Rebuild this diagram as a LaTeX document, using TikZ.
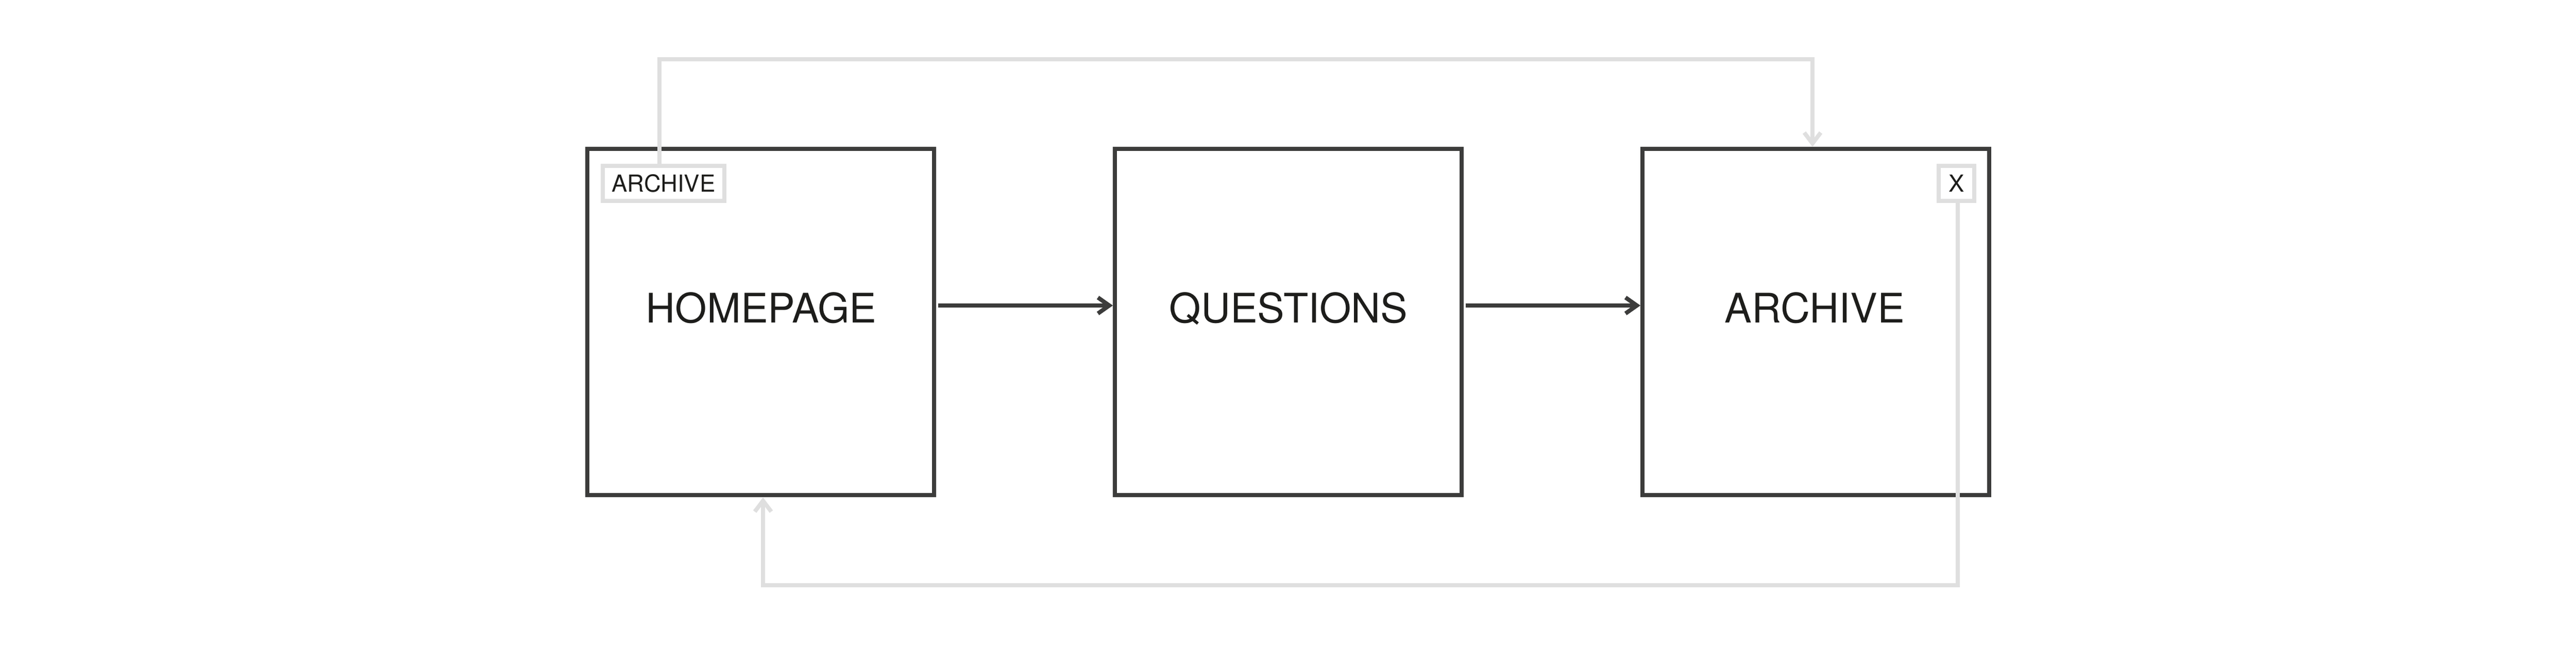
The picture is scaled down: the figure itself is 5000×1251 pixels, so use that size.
\documentclass[tikz,border=0pt]{standalone}
\usepackage{fontspec}
\setmainfont{TeX Gyre Heros}
\usetikzlibrary{arrows.meta}
\definecolor{boxdark}{HTML}{3C3C3B}
\definecolor{linelight}{HTML}{DFDFDF}
\definecolor{textdark}{HTML}{1D1D1B}
\tikzset{
  pagebox/.style={draw=boxdark, line width=0.8pt, fill=white, inner sep=0pt,
    minimum width=67.3pt, minimum height=67.25pt},
  biglabel/.style={text=textdark, inner sep=0pt, anchor=base,
    font=\fontsize{7.9pt}{9pt}\selectfont},
  tagbox/.style={draw=linelight, line width=0.8pt, fill=white, inner sep=0pt,
    text=textdark, font=\fontsize{4.55pt}{5.5pt}\selectfont, minimum height=6.8pt},
  darrow/.style={draw=boxdark, line width=0.8pt, shorten <=0.4pt,
    -{Straight Barb[length=2.2pt,width=3.1pt]}},
  larrow/.style={draw=linelight, line width=0.8pt, line join=miter,
    -{Straight Barb[length=2.1pt,width=3.2pt]}},
}
\begin{document}
\begin{tikzpicture}[x=0.1pt, y=-0.1pt]
  \useasboundingbox (0,0) rectangle (5000,1251);
  % page boxes
  \node[pagebox] (b1) at (1476.5,625.25) {};
  \node[pagebox] (b2) at (2500.5,625.25) {};
  \node[pagebox] (b3) at (3524.5,625.25) {};
  % labels
  \node[biglabel] (t1) at (1477.5,626) {HOMEPAGE};
  \node[biglabel] (t2) at (2501,626) {QUESTIONS};
  \node[biglabel] (t3) at (3522.5,626) {ARCHIVE};
  % small tag boxes
  \node[tagbox, minimum width=23.6pt] (arc) at (1288,356) {ARCHIVE};
  \node[tagbox, minimum width=6.9pt] (xb) at (3797.5,356) {X};
  % main flow arrows
  \coordinate (ay) at (0,593);
  \draw[darrow] (b1.east |- ay) -- (b2.west |- ay);
  \draw[darrow] (b2.east |- ay) -- (b3.west |- ay);
  % top connector: ARCHIVE tag -> archive page
  \coordinate (tl) at (1280,115);
  \coordinate (tr) at (3518,115);
  \draw[larrow] (arc.north -| tl) -- (tl) -- (tr) -- (b3.north -| tr);
  % bottom connector: X tag -> homepage
  \coordinate (br) at (3800,1136);
  \coordinate (bl) at (1481,1136);
  \draw[larrow] (xb.south -| br) -- (br) -- (bl) -- (b1.south -| bl);
\end{tikzpicture}
\end{document}
